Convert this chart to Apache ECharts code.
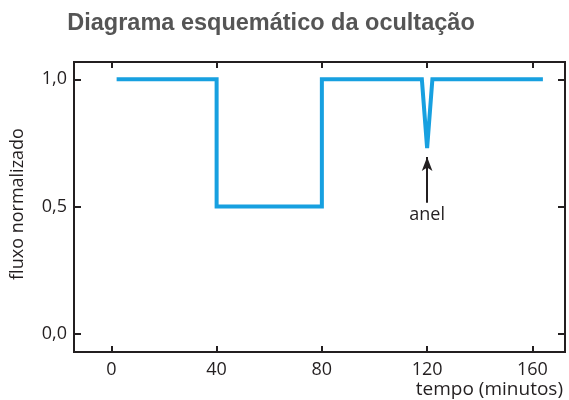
<!DOCTYPE html>
<html><head><meta charset="utf-8">
<script src="https://cdn.jsdelivr.net/npm/echarts@6/dist/echarts.min.js"></script>
<style>html,body{margin:0;padding:0;background:#fff}#c{width:569px;height:400px}</style>
</head><body><div id="c"></div>
<script>
var timeMin = [2, 40, 40, 80, 80, 118, 120, 122, 164];
var flux    = [1.0, 1.0, 0.5, 0.5, 1.0, 1.0, 0.73, 1.0, 1.0];
var xTicks = [0, 40, 80, 120, 160];
var yTicks = [0, 0.5, 1.0];
var arrowFrom = [120, 0.515];
var arrowTo = [120, 0.695];
var arrowLabel = 'anel';

var chart = echarts.init(document.getElementById('c'));
var data = timeMin.map(function(t,i){return [t, flux[i]];});
var fmt = function(v){return v.toFixed(1).replace('.', ',');};
var fontF = '"Open Sans", "Noto Sans", sans-serif';
var axisLineStyle = {color:'#231f20', width:2};
chart.setOption({
  animation:false,
  title:{text:'Diagrama esquemático da ocultação', left:266, textAlign:'center', top:7,
    textStyle:{fontFamily:'"Liberation Sans", Arial, sans-serif', fontWeight:'bold', fontSize:23.5, color:'#555'}},
  graphic:[{type:'text', x:18, y:204, rotation:Math.PI/2,
    style:{text:'fluxo normalizado', align:'center', verticalAlign:'middle', font:'18px "Open Sans", sans-serif', fill:'#231f20'}}],
  grid:{left:74, right:4, top:62, bottom:48, show:true, borderColor:'#231f20', borderWidth:2,
    containLabel:false, outerBoundsMode:'none'},
  xAxis:[{type:'value', min:-14.2, max:172.4, position:'bottom',
    axisLine:{show:true, onZero:false, lineStyle:axisLineStyle},
    axisTick:{show:true, inside:true, length:6, customValues:xTicks, lineStyle:{color:'#231f20', width:2}},
    axisLabel:{customValues:xTicks, margin:9, fontFamily:fontF, fontSize:18, color:'#231f20'},
    splitLine:{show:false},
    name:'tempo (minutos)', nameLocation:'end', nameGap:-2,
    nameTextStyle:{align:'right', verticalAlign:'top', padding:[28,0,0,0], fontFamily:fontF, fontSize:19, color:'#231f20'}
  },{type:'value', min:-14.2, max:172.4, position:'top',
    axisLine:{show:true, onZero:false, lineStyle:axisLineStyle},
    axisTick:{show:true, inside:true, length:6, customValues:xTicks, lineStyle:{color:'#231f20', width:2}},
    axisLabel:{show:false}, splitLine:{show:false}}],
  yAxis:[{type:'value', min:-0.071, max:1.068, position:'left',
    axisLine:{show:true, onZero:false, lineStyle:axisLineStyle},
    axisTick:{show:true, inside:true, length:7, customValues:yTicks, lineStyle:{color:'#231f20', width:2}},
    axisLabel:{customValues:yTicks, formatter:fmt, margin:7, fontFamily:fontF, fontSize:18, color:'#231f20'},
    splitLine:{show:false}
  },{type:'value', min:-0.071, max:1.068, position:'right',
    axisLine:{show:true, onZero:false, lineStyle:axisLineStyle},
    axisTick:{show:true, inside:true, length:7, customValues:yTicks, lineStyle:{color:'#231f20', width:2}},
    axisLabel:{show:false}, splitLine:{show:false}}],
  series:[{type:'line', data:data, symbol:'none', lineStyle:{color:'#17a0e0', width:4, join:'miter'},
    markLine:{silent:true, symbol:['none','arrow'], symbolSize:[8,14],
      lineStyle:{color:'#231f20', width:2, type:'solid'},
      label:{show:true, position:'start', formatter:arrowLabel, distance:3, fontFamily:fontF, fontSize:18, color:'#231f20'},
      data:[[{coord:arrowFrom},{coord:arrowTo}]]}}]
});
</script></body></html>
